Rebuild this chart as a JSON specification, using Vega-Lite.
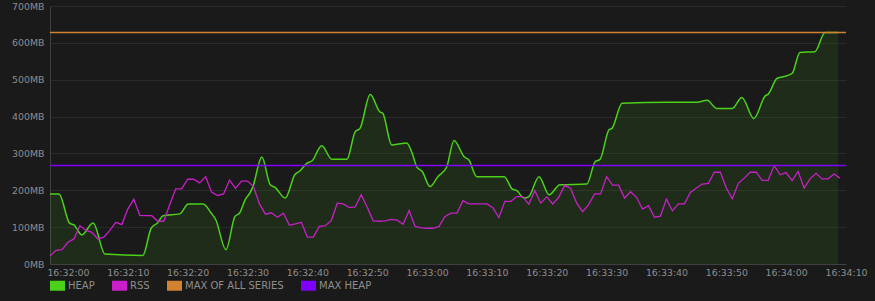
{
  "$schema": "https://vega.github.io/schema/vega-lite/v6.json",
  "width": 796,
  "height": 258,
  "autosize": {"type": "none"},
  "padding": {"left": 50, "top": 6, "right": 29, "bottom": 37},
  "background": "#1a1a1a",
  "config": {
    "view": {"stroke": null},
    "font": "DejaVu Sans",
    "axis": {"labelFont": "DejaVu Sans", "labelFontSize": 9.4, "labelColor": "#8e8e8e", "domainColor": "#404040", "ticks": false, "title": null, "labelOverlap": false},
    "axisX": {"grid": false, "labelPadding": 4, "labelFlush": false},
    "axisY": {"grid": true, "gridColor": "#2a2a2a", "labelPadding": 6}
  },
  "datasets": {
    "heap": [
      {"t": -3.0, "mb": 190}, {"t": -1.5, "mb": 190}, {"t": 0.3, "mb": 110}, {"t": 1.0, "mb": 106}, {"t": 2.3, "mb": 79},
      {"t": 4.2, "mb": 111}, {"t": 6.2, "mb": 27}, {"t": 12.5, "mb": 23}, {"t": 13.9, "mb": 97}, {"t": 15.0, "mb": 112},
      {"t": 15.9, "mb": 131}, {"t": 18.7, "mb": 136}, {"t": 20.1, "mb": 163}, {"t": 22.6, "mb": 163}, {"t": 23.9, "mb": 139},
      {"t": 24.7, "mb": 120}, {"t": 26.4, "mb": 39}, {"t": 27.9, "mb": 129}, {"t": 28.7, "mb": 139}, {"t": 29.6, "mb": 174},
      {"t": 30.4, "mb": 193}, {"t": 30.9, "mb": 210}, {"t": 32.4, "mb": 290}, {"t": 33.8, "mb": 215}, {"t": 34.6, "mb": 208},
      {"t": 36.3, "mb": 179}, {"t": 37.9, "mb": 242}, {"t": 38.8, "mb": 253}, {"t": 39.9, "mb": 273}, {"t": 40.8, "mb": 280},
      {"t": 42.4, "mb": 321}, {"t": 44.1, "mb": 284}, {"t": 46.6, "mb": 284}, {"t": 48.0, "mb": 359}, {"t": 48.8, "mb": 368},
      {"t": 50.5, "mb": 460}, {"t": 52.1, "mb": 413}, {"t": 52.6, "mb": 409}, {"t": 54.1, "mb": 323}, {"t": 55.5, "mb": 326},
      {"t": 56.6, "mb": 328}, {"t": 57.5, "mb": 301}, {"t": 58.3, "mb": 263}, {"t": 59.2, "mb": 251}, {"t": 60.5, "mb": 210},
      {"t": 61.8, "mb": 237}, {"t": 63.3, "mb": 264}, {"t": 64.5, "mb": 335}, {"t": 66.2, "mb": 291}, {"t": 67.0, "mb": 282},
      {"t": 68.3, "mb": 237}, {"t": 72.9, "mb": 237}, {"t": 74.2, "mb": 204}, {"t": 75.0, "mb": 199}, {"t": 76.2, "mb": 179},
      {"t": 77.0, "mb": 183}, {"t": 78.7, "mb": 237}, {"t": 80.4, "mb": 188}, {"t": 82.2, "mb": 215}, {"t": 86.7, "mb": 217},
      {"t": 88.1, "mb": 278}, {"t": 88.9, "mb": 284}, {"t": 90.4, "mb": 364}, {"t": 90.9, "mb": 368}, {"t": 92.6, "mb": 436},
      {"t": 100.1, "mb": 439}, {"t": 105.1, "mb": 439}, {"t": 106.8, "mb": 444}, {"t": 108.4, "mb": 422}, {"t": 111.0, "mb": 422},
      {"t": 112.6, "mb": 452}, {"t": 114.6, "mb": 395}, {"t": 116.5, "mb": 456}, {"t": 117.0, "mb": 461}, {"t": 118.5, "mb": 504},
      {"t": 119.5, "mb": 508}, {"t": 121.0, "mb": 517}, {"t": 122.3, "mb": 574}, {"t": 124.8, "mb": 576}, {"t": 126.5, "mb": 628},
      {"t": 128.7, "mb": 628}
    ],
    "rss": [
      {"t": -3, "mb": 22}, {"t": -2, "mb": 37}, {"t": -1, "mb": 39}, {"t": 0, "mb": 59}, {"t": 1, "mb": 68},
      {"t": 2, "mb": 104}, {"t": 3, "mb": 91}, {"t": 4, "mb": 86}, {"t": 5, "mb": 68}, {"t": 6, "mb": 73},
      {"t": 7, "mb": 91}, {"t": 8, "mb": 113}, {"t": 9, "mb": 107}, {"t": 10, "mb": 149}, {"t": 11, "mb": 176},
      {"t": 12, "mb": 132}, {"t": 13, "mb": 131}, {"t": 14, "mb": 131}, {"t": 15, "mb": 116}, {"t": 16, "mb": 116},
      {"t": 17, "mb": 161}, {"t": 18, "mb": 204}, {"t": 19, "mb": 204}, {"t": 20, "mb": 230}, {"t": 21, "mb": 230},
      {"t": 22, "mb": 220}, {"t": 23, "mb": 237}, {"t": 24, "mb": 195}, {"t": 25, "mb": 186}, {"t": 26, "mb": 190},
      {"t": 27, "mb": 228}, {"t": 28, "mb": 205}, {"t": 29, "mb": 225}, {"t": 30, "mb": 225}, {"t": 31, "mb": 210},
      {"t": 32, "mb": 163}, {"t": 33, "mb": 135}, {"t": 34, "mb": 139}, {"t": 35, "mb": 127}, {"t": 36, "mb": 138},
      {"t": 37, "mb": 105}, {"t": 38, "mb": 109}, {"t": 39, "mb": 113}, {"t": 40, "mb": 73}, {"t": 41, "mb": 73},
      {"t": 42, "mb": 102}, {"t": 43, "mb": 104}, {"t": 44, "mb": 118}, {"t": 45, "mb": 165}, {"t": 46, "mb": 163},
      {"t": 47, "mb": 153}, {"t": 48, "mb": 155}, {"t": 49, "mb": 188}, {"t": 50, "mb": 154}, {"t": 51, "mb": 117},
      {"t": 52, "mb": 116}, {"t": 53, "mb": 117}, {"t": 54, "mb": 121}, {"t": 55, "mb": 119}, {"t": 56, "mb": 108},
      {"t": 57, "mb": 145}, {"t": 58, "mb": 102}, {"t": 59, "mb": 98}, {"t": 60, "mb": 97}, {"t": 61, "mb": 97},
      {"t": 62, "mb": 102}, {"t": 63, "mb": 129}, {"t": 64, "mb": 138}, {"t": 65, "mb": 138}, {"t": 66, "mb": 172},
      {"t": 67, "mb": 163}, {"t": 68, "mb": 163}, {"t": 69, "mb": 163}, {"t": 70, "mb": 163}, {"t": 71, "mb": 153},
      {"t": 72, "mb": 126}, {"t": 73, "mb": 170}, {"t": 74, "mb": 170}, {"t": 75, "mb": 183}, {"t": 76, "mb": 183},
      {"t": 77, "mb": 162}, {"t": 78, "mb": 199}, {"t": 79, "mb": 165}, {"t": 80, "mb": 182}, {"t": 81, "mb": 163},
      {"t": 82, "mb": 181}, {"t": 83, "mb": 214}, {"t": 84, "mb": 205}, {"t": 85, "mb": 165}, {"t": 86, "mb": 142},
      {"t": 87, "mb": 161}, {"t": 88, "mb": 190}, {"t": 89, "mb": 190}, {"t": 90, "mb": 237}, {"t": 91, "mb": 214},
      {"t": 92, "mb": 214}, {"t": 93, "mb": 179}, {"t": 94, "mb": 196}, {"t": 95, "mb": 181}, {"t": 96, "mb": 149},
      {"t": 97, "mb": 158}, {"t": 98, "mb": 127}, {"t": 99, "mb": 130}, {"t": 100, "mb": 176}, {"t": 101, "mb": 144},
      {"t": 102, "mb": 163}, {"t": 103, "mb": 163}, {"t": 104, "mb": 194}, {"t": 105, "mb": 206}, {"t": 106, "mb": 217},
      {"t": 107, "mb": 219}, {"t": 108, "mb": 249}, {"t": 109, "mb": 249}, {"t": 110, "mb": 206}, {"t": 111, "mb": 177},
      {"t": 112, "mb": 219}, {"t": 113, "mb": 233}, {"t": 114, "mb": 249}, {"t": 115, "mb": 249}, {"t": 116, "mb": 227},
      {"t": 117, "mb": 227}, {"t": 118, "mb": 267}, {"t": 119, "mb": 242}, {"t": 120, "mb": 248}, {"t": 121, "mb": 226},
      {"t": 122, "mb": 251}, {"t": 123, "mb": 206}, {"t": 124, "mb": 231}, {"t": 125, "mb": 246}, {"t": 126, "mb": 231},
      {"t": 127, "mb": 231}, {"t": 128, "mb": 244}, {"t": 129, "mb": 233}
    ],
    "limits": [
      {"series": "MAX OF ALL SERIES", "mb": 628},
      {"series": "MAX HEAP", "mb": 267}
    ]
  },
  "layer": [
    {
      "data": {"name": "heap"},
      "mark": {"type": "area", "interpolate": "monotone", "color": "#4bd11a", "fillOpacity": 0.1},
      "encoding": {
        "x": {
          "field": "t", "type": "quantitative",
          "scale": {"domain": [-3, 130], "nice": false, "zero": false},
          "axis": {
            "values": [0, 10, 20, 30, 40, 50, 60, 70, 80, 90, 100, 110, 120, 130],
            "labelExpr": "timeFormat(datetime(2024, 0, 1, 16, 32, datum.value), '%H:%M:%S')"
          }
        },
        "y": {
          "field": "mb", "type": "quantitative",
          "scale": {"domain": [0, 700], "nice": false},
          "axis": {
            "values": [0, 100, 200, 300, 400, 500, 600, 700],
            "labelExpr": "datum.value + 'MB'"
          }
        }
      }
    },
    {
      "data": {"name": "heap"},
      "mark": {"type": "line", "interpolate": "monotone", "strokeWidth": 1.5},
      "encoding": {
        "x": {
          "field": "t", "type": "quantitative",
          "axis": {
            "values": [0, 10, 20, 30, 40, 50, 60, 70, 80, 90, 100, 110, 120, 130],
            "labelExpr": "timeFormat(datetime(2024, 0, 1, 16, 32, datum.value), '%H:%M:%S')"
          }
        },
        "y": {
          "field": "mb", "type": "quantitative",
          "axis": {
            "values": [0, 100, 200, 300, 400, 500, 600, 700],
            "labelExpr": "datum.value + 'MB'"
          }
        },
        "color": {
          "datum": "HEAP", "type": "nominal", "title": null,
          "scale": {"domain": ["HEAP", "RSS", "MAX OF ALL SERIES", "MAX HEAP"], "range": ["#4bd11a", "#c81fc8", "#d1812f", "#7f00ff"]},
          "legend": {
            "title": null, "orient": "none", "legendX": 0, "legendY": 272,
            "direction": "horizontal", "columns": 4, "padding": 0,
            "symbolType": "M-1,-0.667H1V0.667H-1Z", "symbolSize": 225, "symbolStrokeWidth": 0,
            "labelFont": "DejaVu Sans", "labelFontSize": 10, "labelColor": "#8e8e8e",
            "labelOffset": 3, "columnPadding": 17,
            "encode": {"symbols": {"update": {"fill": {"scale": "color", "field": "value"}, "stroke": {"value": "transparent"}, "opacity": {"value": 1}}}}
          }
        }
      }
    },
    {
      "data": {"name": "rss"},
      "mark": {"type": "line", "strokeWidth": 1.3},
      "encoding": {
        "x": {
          "field": "t", "type": "quantitative",
          "axis": {
            "values": [0, 10, 20, 30, 40, 50, 60, 70, 80, 90, 100, 110, 120, 130],
            "labelExpr": "timeFormat(datetime(2024, 0, 1, 16, 32, datum.value), '%H:%M:%S')"
          }
        },
        "y": {
          "field": "mb", "type": "quantitative",
          "axis": {
            "values": [0, 100, 200, 300, 400, 500, 600, 700],
            "labelExpr": "datum.value + 'MB'"
          }
        },
        "color": {"datum": "RSS", "type": "nominal", "title": null}
      }
    },
    {
      "data": {"name": "limits"},
      "mark": {"type": "rule", "strokeWidth": 1.5},
      "encoding": {
        "y": {
          "field": "mb", "type": "quantitative",
          "axis": {
            "values": [0, 100, 200, 300, 400, 500, 600, 700],
            "labelExpr": "datum.value + 'MB'"
          }
        },
        "color": {"field": "series", "type": "nominal", "title": null}
      }
    }
  ]
}
